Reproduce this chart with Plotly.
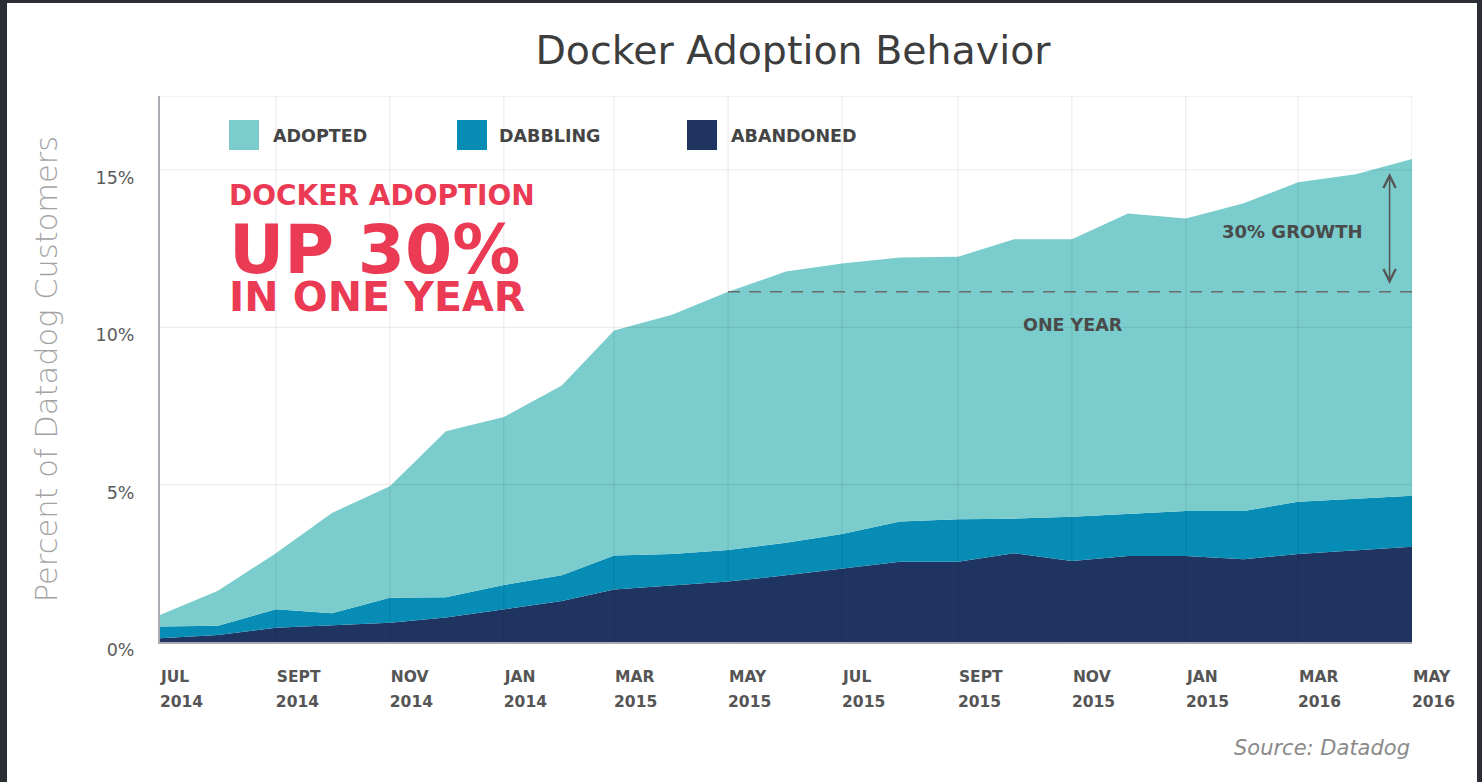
import plotly.graph_objects as go

# ---------------- data ----------------
months = [
    "2014-07-01", "2014-08-01", "2014-09-01", "2014-10-01", "2014-11-01", "2014-12-01",
    "2015-01-01", "2015-02-01", "2015-03-01", "2015-04-01", "2015-05-01", "2015-06-01",
    "2015-07-01", "2015-08-01", "2015-09-01", "2015-10-01", "2015-11-01", "2015-12-01",
    "2016-01-01", "2016-02-01", "2016-03-01", "2016-04-01", "2016-05-01",
]
abandoned = [0.12, 0.22, 0.45, 0.54, 0.61, 0.78, 1.04, 1.30, 1.67, 1.80, 1.92, 2.12,
             2.34, 2.55, 2.55, 2.82, 2.57, 2.73, 2.73, 2.63, 2.80, 2.92, 3.03]
dabbling = [0.37, 0.30, 0.59, 0.37, 0.80, 0.64, 0.77, 0.82, 1.08, 1.00, 1.00, 1.03,
            1.09, 1.28, 1.35, 1.10, 1.41, 1.34, 1.43, 1.53, 1.66, 1.63, 1.62]
adopted = [0.37, 1.11, 1.78, 3.19, 3.54, 5.28, 5.34, 6.03, 7.15, 7.60, 8.21, 8.62,
           8.60, 8.39, 8.34, 8.88, 8.82, 9.55, 9.30, 9.78, 10.15, 10.31, 10.70]

series_names = ["ADOPTED", "DABBLING", "ABANDONED"]
series_colors = ["#7ACDCC", "#068CB5", "#1F3460"]

tick_dates = ["2014-07-01", "2014-09-01", "2014-11-01", "2015-01-01", "2015-03-01",
              "2015-05-01", "2015-07-01", "2015-09-01", "2015-11-01", "2016-01-01",
              "2016-03-01", "2016-05-01"]
tick_months = ["JUL", "SEPT", "NOV", "JAN", "MAR", "MAY", "JUL", "SEPT", "NOV", "JAN",
               "MAR", "MAY"]
tick_years = ["2014", "2014", "2014", "2014", "2015", "2015", "2015", "2015", "2015",
              "2015", "2016", "2016"]
y_ticks = [0, 5, 10, 15]
y_tick_text = ["0%", "5%", "10%", "15%"]
y_max = 17.35

year_start = "2015-05-01"
year_end = "2016-05-01"
arrow_x = "2016-04-19"

# ---------------- figure ----------------
fig = go.Figure()

stack_order = [("ABANDONED", abandoned), ("DABBLING", dabbling), ("ADOPTED", adopted)]
for name, vals in stack_order:
    col = series_colors[series_names.index(name)]
    fig.add_trace(go.Scatter(
        x=months, y=vals, name=name, stackgroup="one", mode="lines",
        line=dict(width=0, color=col), fillcolor=col, showlegend=False,
        hoverinfo="x+y+name",
    ))

# one year ago level (total at May 2015)
i0 = months.index(year_start)
level = adopted[i0] + dabbling[i0] + abandoned[i0]
fig.add_trace(go.Scatter(
    x=[year_start, year_end], y=[level, level], mode="lines",
    line=dict(color="#6b6b6b", width=1.5, dash="12px,9px"),
    showlegend=False, hoverinfo="skip",
))
# carrier trace for the year-label axis
fig.add_trace(go.Scatter(x=[months[0], months[-1]], y=[0, 0], xaxis="x2", mode="none",
                         showlegend=False, hoverinfo="skip"))

TICK_FONT = dict(family="DejaVu Sans", size=15.5, color="#555555", weight=700)
fig.update_layout(
    xaxis=dict(
        type="date", range=[months[0], months[-1]],
        tickvals=tick_dates, ticktext=tick_months, showgrid=False,
        showline=True, linecolor="#a9abb0", linewidth=2,
        ticks="", ticklabelposition="outside right", ticklabelstandoff=19,
        tickfont=TICK_FONT, layer="above traces", zeroline=False,
    ),
    xaxis2=dict(
        type="date", range=[months[0], months[-1]], overlaying="x", anchor="y",
        side="bottom", tickvals=tick_dates, ticktext=tick_years,
        showgrid=False, showline=False, ticks="",
        ticklabelposition="outside right", ticklabelstandoff=48,
        tickfont=TICK_FONT, zeroline=False,
    ),
    yaxis=dict(
        range=[0, y_max], tickvals=y_ticks, ticktext=y_tick_text, showgrid=False,
        showline=True, linecolor="#a9abb0", linewidth=2,
        ticks="", ticklabelstandoff=20, ticklabelshift=8,
        tickfont=dict(family="DejaVu Sans", size=17.5, color="#5a5a5a"),
        title=dict(text="Percent of Datadog Customers", standoff=29,
                   font=dict(family="DejaVu Sans", size=30.5, color="#a3a3a3", weight=200)),
        layer="above traces", zeroline=False,
    ),
)

PX_L, PX_R, PX_T, PX_B = 160, 1412, 96, 642
def px_x(p):
    return (p - PX_L) / (PX_R - PX_L)
def px_y(p):
    return (PX_B - p) / (PX_B - PX_T)

grid_col = "rgba(0,0,0,0.09)"
shapes = [dict(type="rect", xref="paper", yref="paper", layer="below",
               x0=px_x(7), x1=px_x(1477), y0=px_y(790), y1=px_y(3),
               fillcolor="white", line=dict(width=0))]
# grid drawn above the areas (as in the original)
for d in tick_dates[1:]:
    shapes.append(dict(type="line", xref="x", yref="y", x0=d, x1=d, y0=0, y1=y_max,
                       layer="above", line=dict(color=grid_col, width=1)))
for v in y_ticks[1:] + [y_max]:
    shapes.append(dict(type="line", xref="x", yref="y", x0=months[0], x1=months[-1],
                       y0=v, y1=v, layer="above", line=dict(color=grid_col, width=1)))

# custom legend
legend_swatch_x = [229, 457, 687]
legend_text_x = [271, 497, 729]
annotations = []
for name, col, sx, tx in zip(series_names, series_colors, legend_swatch_x, legend_text_x):
    shapes.append(dict(type="rect", xref="paper", yref="paper",
                       x0=px_x(sx), x1=px_x(sx + 30), y0=px_y(150), y1=px_y(120),
                       fillcolor=col, line=dict(width=0)))
    annotations.append(dict(text=name, xref="paper", yref="paper", x=px_x(tx), y=px_y(136),
                            xanchor="left", yanchor="middle", showarrow=False,
                            font=dict(family="DejaVu Sans", size=17.5, color="#444444",
                                      weight=700)))

red = "#EB3A53"
headline_top = ("<span style='font-size:28px'>DOCKER ADOPTION</span><br><br>"
                "<span style='font-size:68px'>UP 30%</span>")
annotations += [
    dict(text=headline_top, xref="paper", yref="paper", x=px_x(227), y=px_y(177),
         xanchor="left", yanchor="top", align="left", showarrow=False,
         font=dict(family="DejaVu Sans", size=26.3, color=red, weight=700)),
    dict(text="IN ONE YEAR", xref="paper", yref="paper", x=px_x(227), y=px_y(271),
         xanchor="left", yanchor="top", align="left", showarrow=False,
         font=dict(family="DejaVu Sans", size=41, color=red, weight=700)),
    dict(text="30% GROWTH", xref="paper", yref="paper", x=px_x(1292), y=px_y(231),
         xanchor="center", yanchor="middle", showarrow=False,
         font=dict(family="DejaVu Sans", size=18, color="#4a4a4a", weight=700)),
    dict(text="ONE YEAR", xref="paper", yref="paper", x=px_x(1073), y=px_y(325),
         xanchor="center", yanchor="middle", showarrow=False,
         font=dict(family="DejaVu Sans", size=17.5, color="#4a4a4a", weight=700)),
    dict(text="Source: Datadog", xref="paper", yref="paper", x=1.0, y=px_y(748),
         xanchor="right", yanchor="middle", showarrow=False,
         font=dict(family="DejaVu Sans", size=21, color="#8a8a8a", style="italic")),
    # double-headed growth arrow
    dict(x=arrow_x, y=14.9, ax=arrow_x, ay=level + 0.2, xref="x", yref="y",
         axref="x", ayref="y", text="", showarrow=True, arrowhead=5, startarrowhead=5,
         arrowside="end+start", arrowsize=1.6, arrowwidth=1.5, arrowcolor="#555555"),
]

fig.update_layout(
    width=1482, height=782,
    margin=dict(l=PX_L, r=1482 - PX_R, t=PX_T, b=782 - PX_B),
    paper_bgcolor="#2b2e34", plot_bgcolor="white",
    title=dict(text="Docker Adoption Behavior", x=px_x(793), xref="paper", xanchor="center",
               y=1 - 50 / 782, yref="container", yanchor="middle",
               font=dict(family="DejaVu Sans", size=39.5, color="#3d3d3d")),
    shapes=shapes, annotations=annotations,
    showlegend=False,
)

fig.write_html(
    "out.html",
    config={"displayModeBar": False},
    post_script="document.body.style.margin='0';document.body.style.background='#2b2e34';",
)
